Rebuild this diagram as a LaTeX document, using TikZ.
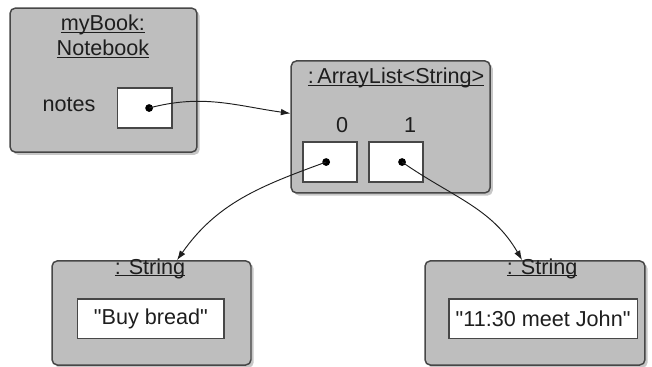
\documentclass[tikz,border=0pt]{standalone}
\usepackage{fontspec}
\setmainfont{Liberation Sans}
\usetikzlibrary{arrows.meta,shadows}
\definecolor{ink}{HTML}{1E1E1E}
\definecolor{frame}{HTML}{474747}
\definecolor{objfill}{HTML}{BEBEBE}
\newcommand{\objfont}{\fontsize{20.5}{23.5}\selectfont}
\newcommand{\objname}[1]{\underline{\smash{#1}}}
\tikzset{
 every node/.append style={font=\objfont,text=ink,align=center},
 object/.style={draw=frame,fill=objfill,rounded corners=5pt,line width=1.4pt,inner sep=0pt,
   drop shadow={shadow xshift=.9mm,shadow yshift=-.9mm,fill=black,opacity=.22}},
 field/.style={draw=frame,fill=white,line width=1.1pt,minimum height=13.3mm,inner sep=0pt},
 title/.style={inner sep=1pt},
 word/.style={inner sep=1pt},
 dot/.style={circle,fill=black,inner sep=0pt,minimum size=2.6mm},
 ref/.style={-{Latex[length=3.2mm,width=2.2mm]},draw=ink,line width=.9pt},
}

\begin{document}
\begin{tikzpicture}
\useasboundingbox (0,0) rectangle (21.73,-12.23);

\node[object,minimum width=62.3mm,minimum height=48mm] (book) at (3.45,-2.67) {};
\node[title] (bookname) at (3.43,-1.47) {\objname{myBook:}\\\objname{Notebook}};
\node[word] (noteslabel) at (2.3,-3.47) {notes};
\node[field,minimum width=18.3mm] (notes) at (4.82,-3.6) {};
\node[dot] (notesref) at ([xshift=1.5mm]notes.center) {};

\node[object,minimum width=66.3mm,minimum height=44mm] (list) at (13.02,-4.23) {};
\node[title] (listname) at (13.2,-2.83) {\objname{:\,ArrayList\textless String\textgreater}};
\node[word] (idx0) at (11.4,-4.17) {0};
\node[word] (idx1) at (13.67,-4.17) {1};
\node[field,minimum width=18mm] (slot0) at (11.0,-5.4) {};
\node[field,minimum width=18mm] (slot1) at (13.2,-5.4) {};
\node[dot] (ref0) at ([xshift=-1.3mm]slot0.center) {};
\node[dot] (ref1) at ([xshift=2mm]slot1.center) {};

\node[object,minimum width=66.3mm,minimum height=34.7mm] (strA) at (5.05,-10.43) {};
\node[title] (strAname) at (5.0,-9.17) {\objname{: String}};
\node[field,minimum width=48.7mm] (strAval) at (5.03,-10.63) {\textquotedbl Buy bread\textquotedbl};

\node[object,minimum width=73.3mm,minimum height=34.7mm] (strB) at (17.83,-10.43) {};
\node[title] (strBname) at (18.07,-9.17) {\objname{: String}};
\node[field,minimum width=62.7mm] (strBval) at (18.1,-10.63) {\textquotedbl 11:30 meet John\textquotedbl};

\draw[ref] (notesref.center) to[out=15,in=172] ([yshift=4.5mm]list.west);
\draw[ref] (ref0.center) to[out=200,in=55] ([xshift=8.5mm]strA.north);
\draw[ref] (ref1.center) to[out=-35,in=120] ([xshift=-4.3mm]strB.north);

\end{tikzpicture}
\end{document}
